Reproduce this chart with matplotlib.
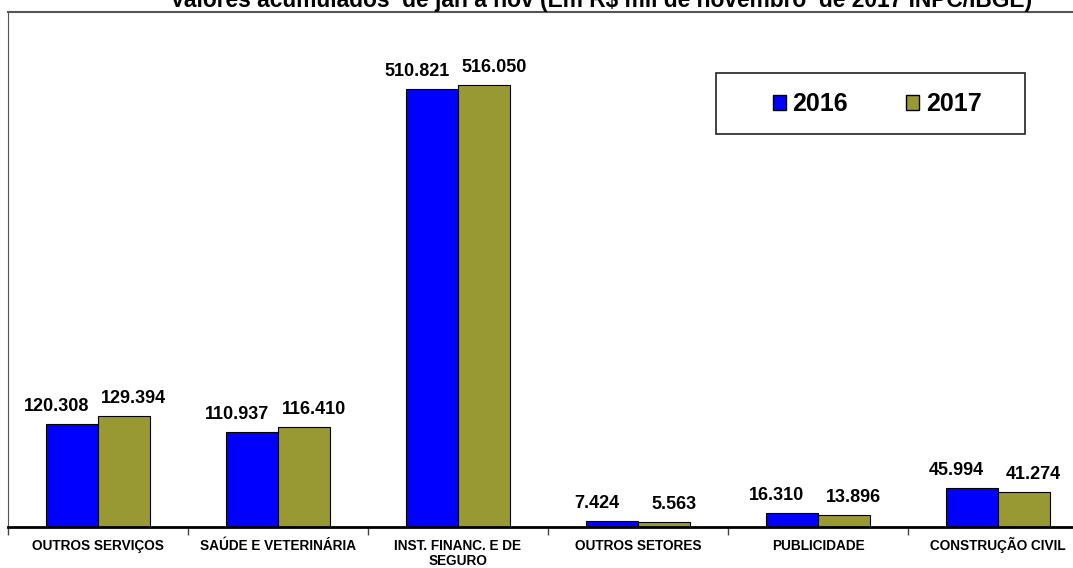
import numpy as np
import matplotlib.pyplot as plt
from matplotlib.patches import Rectangle, Patch

plt.rcParams['font.family'] = ['Liberation Sans', 'DejaVu Sans']

categories = ['OUTROS SERVIÇOS', 'SAÚDE E VETERINÁRIA', 'INST. FINANC. E DE\nSEGURO',
              'OUTROS SETORES', 'PUBLICIDADE', 'CONSTRUÇÃO CIVIL']
vals_2016 = [120.308, 110.937, 510.821, 7.424, 16.310, 45.994]
vals_2017 = [129.394, 116.410, 516.050, 5.563, 13.896, 41.274]
series_names = ['2016', '2017']
title = 'Valores acumulados  de jan a nov (Em R$ mil de novembro  de 2017 INPC/IBGE)'

col_2016 = '#0000FF'
col_2017 = '#999933'


def fmt(v):
    return f'{v:.3f}'


fig = plt.figure(figsize=(10.73, 5.68), dpi=100)
ax = fig.add_axes([8 / 1073, 41 / 568, 1080 / 1073, 515 / 568])

x = np.arange(len(categories))
w = 0.289
b1 = ax.bar(x - w / 2, vals_2016, w, color=col_2016, edgecolor='black', linewidth=0.8)
b2 = ax.bar(x + w / 2, vals_2017, w, color=col_2017, edgecolor='black', linewidth=0.8)

for rect, v in zip(b1, vals_2016):
    ax.annotate(fmt(v), (rect.get_x() + rect.get_width() / 2, rect.get_height()),
                xytext=(-11, 6.5), textcoords='offset points', ha='center', va='bottom',
                fontsize=13, fontweight='bold')
for rect, v in zip(b2, vals_2017):
    ax.annotate(fmt(v), (rect.get_x() + rect.get_width() / 2, rect.get_height()),
                xytext=(7, 6.5), textcoords='offset points', ha='center', va='bottom',
                fontsize=13, fontweight='bold')

ax.set_xlim(-0.5, len(categories) - 0.5)
ax.set_ylim(0, 601)
ax.set_yticks([])

# boundary ticks without labels; category names placed line by line on a common baseline
ax.set_xticks(np.arange(len(categories) + 1) - 0.5)
ax.set_xticklabels([])
ax.tick_params(axis='x', which='major', length=6, width=1, color='#444444')
for xi, cat in zip(x, categories):
    for i, line in enumerate(cat.split('\n')):
        ax.annotate(line, (xi, 0), xycoords=ax.get_xaxis_transform(),
                    xytext=(0, -16.5 - 10.8 * i), textcoords='offset points',
                    ha='center', va='baseline', fontsize=9.8, fontweight='bold')

ax.spines['bottom'].set_linewidth(2)
ax.spines['bottom'].set_color('black')
ax.spines['left'].set_color('#555555')
ax.spines['left'].set_linewidth(0.8)
ax.spines['top'].set_color('#555555')
ax.spines['top'].set_linewidth(1.5)
ax.spines['right'].set_visible(False)

# legend box
fig.patches.append(Rectangle((716 / 1073, 1 - 134 / 568), 309 / 1073, 61 / 568,
                             transform=fig.transFigure, fill=False,
                             edgecolor='#222222', linewidth=1.2))
handles = [Patch(facecolor=col_2016, edgecolor='black'),
           Patch(facecolor=col_2017, edgecolor='black')]
fig.legend(handles, series_names, loc='center', bbox_to_anchor=(877 / 1073, 1 - 104 / 568),
           ncol=2, frameon=False, prop={'size': 18, 'weight': 'bold'},
           handlelength=0.55, handleheight=0.55, handletextpad=0.25, columnspacing=2.3)

fig.text(601 / 1073, 1 - 7 / 568, title, ha='center', va='baseline',
         fontsize=16.4, fontweight='bold')

plt.savefig('out.png', dpi=100)
